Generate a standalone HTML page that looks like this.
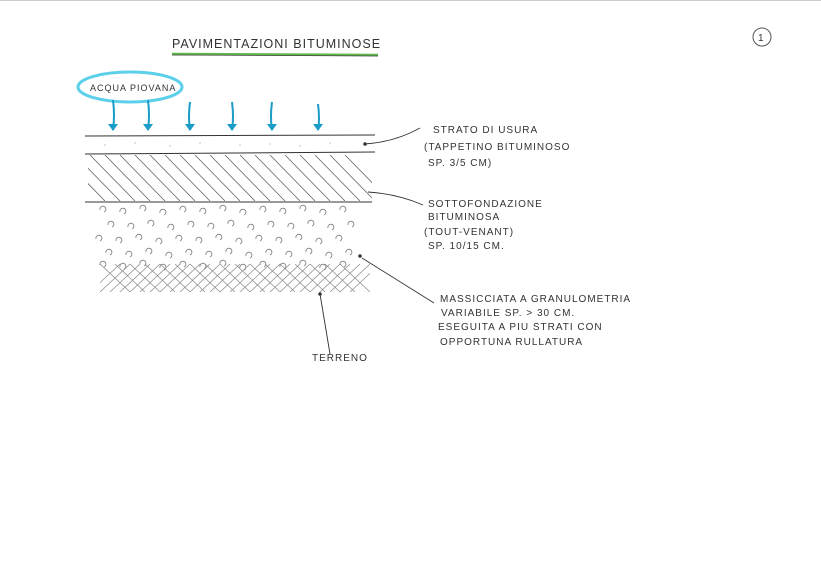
<!DOCTYPE html>
<html><head><style>
body{margin:0;background:#fff}
svg{display:block}
text{font-family:"Liberation Sans",sans-serif;font-size:10px;fill:#333;letter-spacing:1px}
</style></head><body>
<svg width="821" height="580" viewBox="0 0 821 580">
<defs>
<clipPath id="h"><rect x="88" y="155" width="284" height="46"/></clipPath>
<clipPath id="x"><rect x="100" y="264" width="270" height="28"/></clipPath>
</defs>
<line x1="0" y1="0.5" x2="821" y2="0.5" stroke="#ccc"/>
<text x="172" y="48" style="font-size:12.5px;letter-spacing:1px">PAVIMENTAZIONI BITUMINOSE</text>
<line x1="172" y1="54" x2="378" y2="55" stroke="#5fb84a" stroke-width="2.5"/>
<line x1="172" y1="55" x2="378" y2="56" stroke="#444" stroke-width="0.8"/>
<circle cx="762" cy="37" r="9" fill="none" stroke="#555"/>
<text x="758" y="41" style="font-size:10px">1</text>
<ellipse cx="130" cy="87" rx="52" ry="15" fill="none" stroke="#5cd0ea" stroke-width="3"/>
<text x="90" y="91" style="font-size:9px">ACQUA PIOVANA</text>
<g stroke="#1a9cc8" stroke-width="2" fill="none">
<path d="M113,100 q2,15 0,30"/><path d="M148,100 q2,15 0,30"/><path d="M190,102 q-2,15 0,28"/><path d="M232,102 q2,15 0,28"/><path d="M272,102 q-2,15 0,28"/><path d="M318,104 q2,15 0,26"/>
</g>
<g fill="#1a9cc8">
<path d="M108,124 l10,0 l-5,7z"/><path d="M143,124 l10,0 l-5,7z"/><path d="M185,124 l10,0 l-5,7z"/><path d="M227,124 l10,0 l-5,7z"/><path d="M267,124 l10,0 l-5,7z"/><path d="M313,124 l10,0 l-5,7z"/>
</g>
<g stroke="#333" stroke-width="1">
<line x1="85" y1="136" x2="375" y2="135"/>
<line x1="85" y1="154" x2="375" y2="152"/>
<line x1="85" y1="202" x2="372" y2="202"/>
</g>
<g fill="#999">
<circle cx="105" cy="145" r=".6"/><circle cx="135" cy="143" r=".6"/><circle cx="170" cy="146" r=".6"/><circle cx="200" cy="143" r=".6"/><circle cx="240" cy="145" r=".6"/><circle cx="270" cy="144" r=".6"/><circle cx="300" cy="146" r=".6"/><circle cx="330" cy="143" r=".6"/>
</g>
<g clip-path="url(#h)" stroke="#666" stroke-width="0.8">
<path d="M60,155 l45,46 M75,155 l45,46 M90,155 l45,46 M105,155 l45,46 M120,155 l45,46 M135,155 l45,46 M150,155 l45,46 M165,155 l45,46 M180,155 l45,46 M195,155 l45,46 M210,155 l45,46 M225,155 l45,46 M240,155 l45,46 M255,155 l45,46 M270,155 l45,46 M285,155 l45,46 M300,155 l45,46 M315,155 l45,46 M330,155 l45,46 M345,155 l45,46"/>
</g>
<g fill="none" stroke="#777" stroke-width="0.8">
<path id="p" d="M100,210 a3,3 0 1,1 4,2 M120,212 a3,3 0 1,1 4,2 M140,209 a3,3 0 1,1 4,2 M160,213 a3,3 0 1,1 4,2 M180,210 a3,3 0 1,1 4,2 M200,212 a3,3 0 1,1 4,2 M220,209 a3,3 0 1,1 4,2 M240,213 a3,3 0 1,1 4,2 M260,210 a3,3 0 1,1 4,2 M280,212 a3,3 0 1,1 4,2 M300,209 a3,3 0 1,1 4,2 M320,213 a3,3 0 1,1 4,2 M340,210 a3,3 0 1,1 4,2"/>
<use href="#p" x="8" y="15"/><use href="#p" x="-4" y="29"/><use href="#p" x="6" y="43"/><use href="#p" x="0" y="55"/>
</g>
<g clip-path="url(#x)" stroke="#888" stroke-width="0.7">
<path d="M90,292 l30,-28 M100,292 l30,-28 M110,292 l30,-28 M120,292 l30,-28 M130,292 l30,-28 M140,292 l30,-28 M150,292 l30,-28 M160,292 l30,-28 M170,292 l30,-28 M180,292 l30,-28 M190,292 l30,-28 M200,292 l30,-28 M210,292 l30,-28 M220,292 l30,-28 M230,292 l30,-28 M240,292 l30,-28 M250,292 l30,-28 M260,292 l30,-28 M270,292 l30,-28 M280,292 l30,-28 M290,292 l30,-28 M300,292 l30,-28 M310,292 l30,-28 M320,292 l30,-28 M330,292 l30,-28 M340,292 l30,-28 M350,292 l30,-28"/>
<path d="M100,264 l30,28 M115,264 l30,28 M130,264 l30,28 M145,264 l30,28 M160,264 l30,28 M175,264 l30,28 M190,264 l30,28 M205,264 l30,28 M220,264 l30,28 M235,264 l30,28 M250,264 l30,28 M265,264 l30,28 M280,264 l30,28 M295,264 l30,28 M310,264 l30,28 M325,264 l30,28 M340,264 l30,28"/>
</g>
<g stroke="#333" stroke-width="0.9" fill="none">
<path d="M365,144 q30,-2 55,-16"/><circle cx="365" cy="144" r="1.3" fill="#333"/>
<path d="M368,192 q30,2 55,13"/>
<path d="M362,258 l72,45"/><circle cx="360" cy="256" r="1.3" fill="#333"/>
<path d="M320,294 l10,60"/><circle cx="320" cy="294" r="1.3" fill="#333"/>
</g>
<text x="433" y="133">STRATO DI USURA</text>
<text x="424" y="150">(TAPPETINO BITUMINOSO</text>
<text x="428" y="166">SP. 3/5 CM)</text>
<text x="428" y="207">SOTTOFONDAZIONE</text>
<text x="428" y="220">BITUMINOSA</text>
<text x="424" y="235">(TOUT-VENANT)</text>
<text x="428" y="249">SP. 10/15 CM.</text>
<text x="440" y="302">MASSICCIATA A GRANULOMETRIA</text>
<text x="441" y="316">VARIABILE  SP. &gt; 30 CM.</text>
<text x="438" y="330">ESEGUITA A PIU STRATI CON</text>
<text x="440" y="345">OPPORTUNA RULLATURA</text>
<text x="312" y="361">TERRENO</text>
</svg>
</body></html>
